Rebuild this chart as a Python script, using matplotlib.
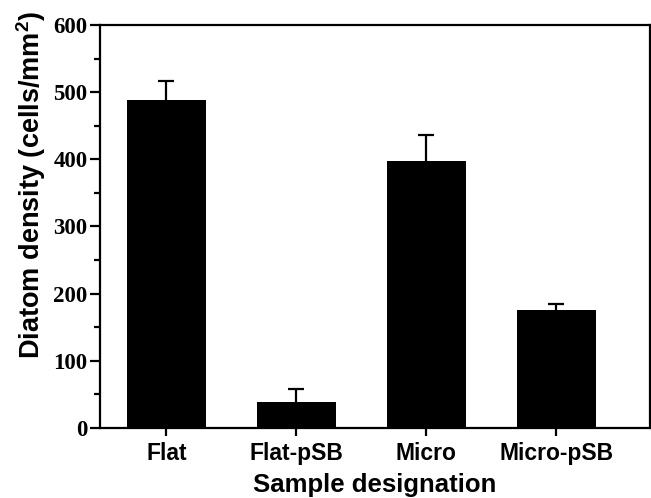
import matplotlib
matplotlib.use("Agg")
import matplotlib.pyplot as plt
from matplotlib.ticker import MultipleLocator

# Data
samples = ['Flat', 'Flat-pSB', 'Micro', 'Micro-pSB']
density = [488, 38, 398, 175]
err_up = [29, 20, 38, 9]

plt.rcParams['mathtext.fontset'] = 'custom'
plt.rcParams['mathtext.bf'] = 'Liberation Sans:bold'
plt.rcParams['mathtext.rm'] = 'Liberation Sans:bold'

fig = plt.figure(figsize=(6.51, 4.98), dpi=100)
ax = fig.add_axes([0.1536, 0.1406, 0.845, 0.8092])

x = [1, 2, 3, 4]
tops = [d + e for d, e in zip(density, err_up)]
ax.bar(x, density, width=0.61, color='black', zorder=2)
# upper-only error bars
ax.vlines(x, density, tops, color='black', linewidth=1.6, zorder=1)
ax.plot(x, tops, linestyle='none', marker='_', markersize=12,
        markeredgewidth=1.6, color='black', zorder=1)

ax.set_xlim(0.49, 4.72)
ax.set_ylim(0, 600)
ax.set_xticks(x)
ax.set_xticklabels(samples, fontfamily='Liberation Sans', fontweight='bold', fontsize=16.5)
ax.yaxis.set_major_locator(MultipleLocator(100))
ax.yaxis.set_minor_locator(MultipleLocator(50))
for lab in ax.get_yticklabels():
    lab.set_fontfamily('Liberation Serif')
    lab.set_fontweight('bold')
    lab.set_fontsize(16.5)

ax.tick_params(axis='y', which='major', direction='out', length=7, width=1.6, pad=2)
ax.tick_params(axis='y', which='minor', direction='out', length=4, width=1.6)
ax.tick_params(axis='x', which='major', direction='out', length=6, width=1.6, pad=4)
for s in ax.spines.values():
    s.set_linewidth(1.6)

ax.set_xlabel('Sample designation', fontfamily='Liberation Sans', fontweight='bold',
              fontsize=18.5, labelpad=6)
ax.set_ylabel(r'Diatom density (cells/mm$^{\mathbf{2}}$)', fontfamily='Liberation Sans',
              fontweight='bold', fontsize=19.5)
ax.yaxis.set_label_coords(-0.094, 0.603)

fig.savefig('out.png', dpi=100)
